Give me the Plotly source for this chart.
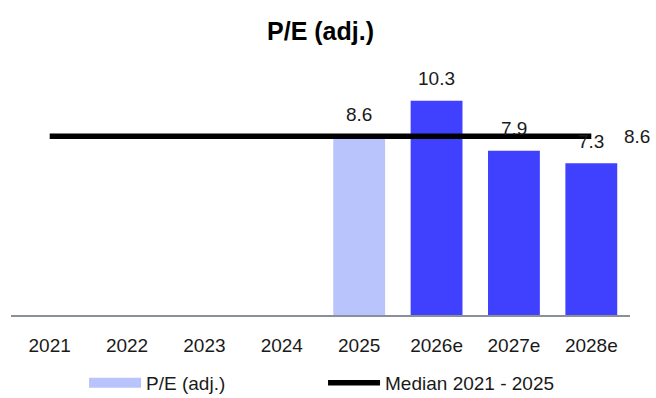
import plotly.graph_objects as go

categories = ["2021", "2022", "2023", "2024", "2025", "2026e", "2027e", "2028e"]
pe_values = [None, None, None, None, 8.6, 10.3, 7.9, 7.3]
bar_colors = ["#b9c4fc"] * 5 + ["#4040ff"] * 3
median_value = 8.6
median_values = [median_value] * len(categories)

FONT = "Liberation Sans, Arial, sans-serif"
TXT = "#1a1a1a"
idx = list(range(len(categories)))

fig = go.Figure()
fig.add_trace(go.Bar(
    x=idx, y=pe_values, name="P/E (adj.)",
    marker=dict(color=bar_colors, line=dict(width=0)),
    width=0.67, showlegend=False,
))
# legend entry for the bars (wide flat swatch, as in the reference)
fig.add_trace(go.Scatter(
    x=[None], y=[None], mode="lines", name="P/E (adj.)",
    line=dict(color=bar_colors[0], width=11),
))
fig.add_trace(go.Scatter(
    x=idx, y=median_values, mode="lines", name="Median 2021 - 2025",
    line=dict(color="black", width=5.5),
))

# value labels above bars
for i, v in zip(idx, pe_values):
    if v is not None:
        fig.add_annotation(x=i, y=v, text=f"{v:.1f}", showarrow=False,
                           yanchor="middle", yshift=22,
                           font=dict(size=19, color=TXT, family=FONT))
# median label at the right end
fig.add_annotation(x=idx[-1], y=median_values[-1], text=f"{median_value:.1f}",
                   showarrow=False, xanchor="center", xshift=46,
                   font=dict(size=19, color=TXT, family=FONT))

fig.update_layout(
    width=656, height=398,
    margin=dict(l=11, r=26, t=60, b=83),
    paper_bgcolor="white", plot_bgcolor="white",
    title=dict(text="<b>P/E (adj.)</b>", x=0.5, xref="paper", y=1 - 31 / 398,
               yref="container", yanchor="middle",
               font=dict(size=25, color="black", family=FONT)),
    font=dict(family=FONT, size=19, color=TXT),
    showlegend=True,
    legend=dict(orientation="h", x=0.118, xanchor="left", xref="paper",
                y=1 - 383 / 398, yref="container", yanchor="middle",
                font=dict(size=19, color=TXT, family=FONT),
                itemwidth=52, entrywidth=172, traceorder="normal"),
    xaxis=dict(type="linear", range=[-0.5, len(categories) - 0.5],
               tickmode="array", tickvals=idx, ticktext=categories,
               showline=True, linecolor="#8a9099", linewidth=2, showgrid=False,
               zeroline=False, automargin=False,
               ticks="outside", ticklen=12, tickcolor="rgba(0,0,0,0)",
               tickfont=dict(size=19)),
    yaxis=dict(range=[0, 12.26], showticklabels=False, showgrid=False,
               zeroline=False, showline=False, automargin=False),
)

fig.write_html("out.html")
